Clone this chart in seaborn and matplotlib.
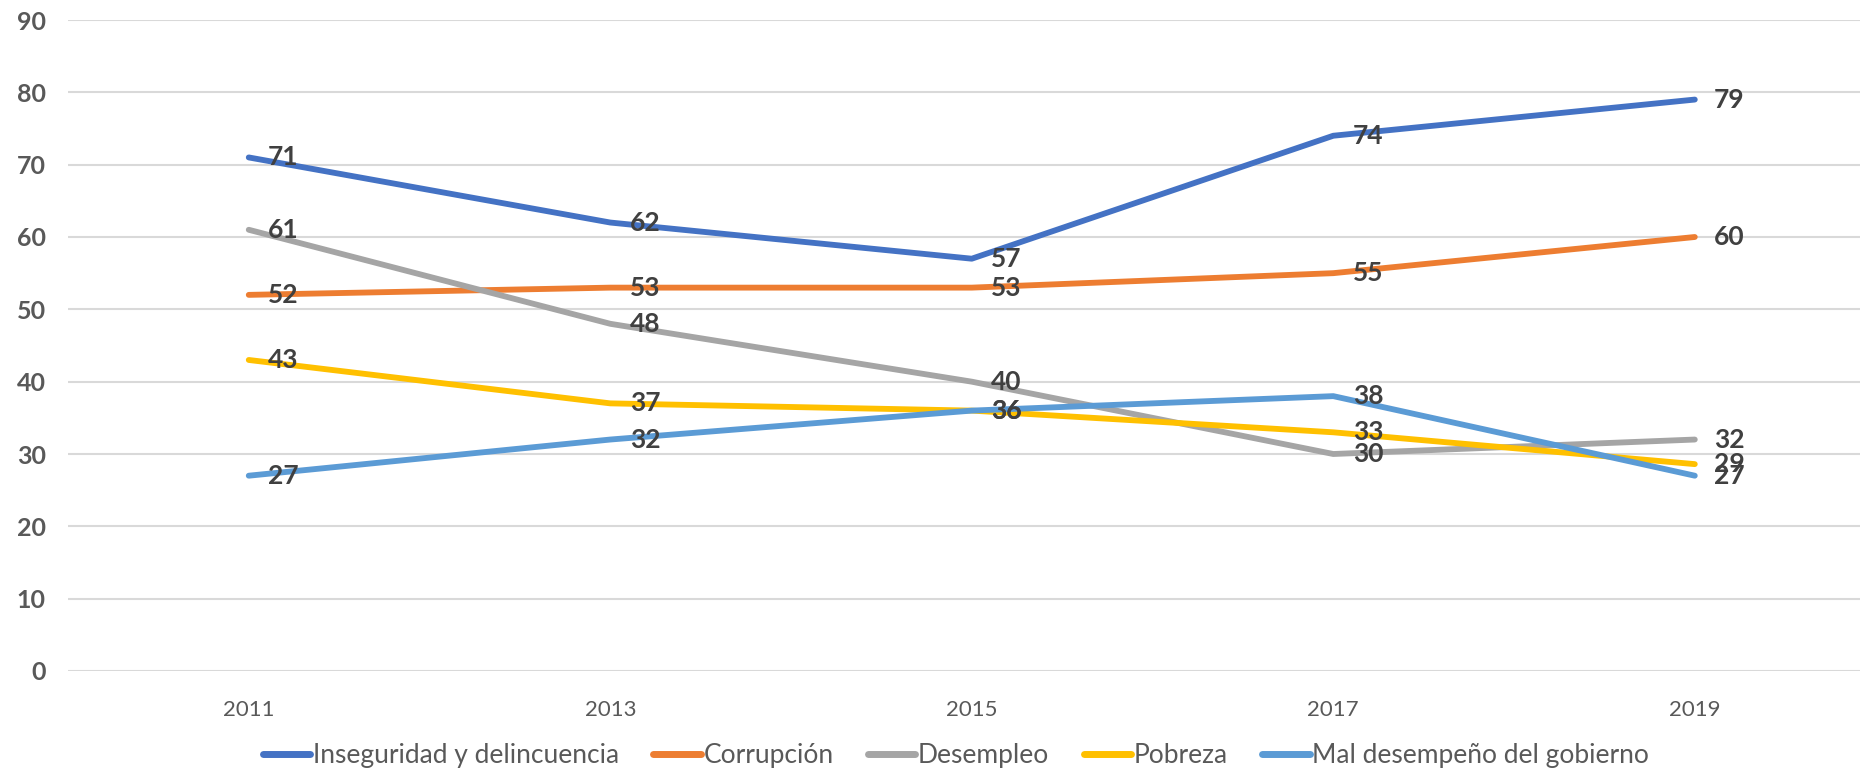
import pandas as pd
import matplotlib.pyplot as plt
import seaborn as sns

# Data
years = ['2011', '2013', '2015', '2017', '2019']
inseguridad = [71, 62, 57, 74, 79]
corrupcion = [52, 53, 53, 55, 60]
desempleo = [61, 48, 40, 30, 32]
pobreza = [43, 37, 36, 33, 28.6]
mal_gobierno = [27, 32, 36, 38, 27]

series_names = ['Inseguridad y delincuencia', 'Corrupción', 'Desempleo',
                'Pobreza', 'Mal desempeño del gobierno']
series_values = [inseguridad, corrupcion, desempleo, pobreza, mal_gobierno]
colors = ['#4472C4', '#ED7D31', '#A5A5A5', '#FFC000', '#5B9BD5']

# Long-form table for seaborn
rows = []
for name, vals in zip(series_names, series_values):
    for year, v in zip(years, vals):
        rows.append({'year': year, 'value': v, 'serie': name})
df = pd.DataFrame(rows)

sns.set_style('white')
plt.rcParams['font.family'] = ['Lato', 'DejaVu Sans']

fig = plt.figure(figsize=(18.6, 7.77), dpi=100)
ax = fig.add_axes([68 / 1860, 1 - 671 / 777, 1 - 68 / 1860, (671 - 20) / 777])

sns.lineplot(data=df, x='year', y='value', hue='serie', palette=colors,
             hue_order=series_names, sort=False, linewidth=4.2, ax=ax,
             solid_capstyle='round')

# Data labels right of each point
for name, vals in zip(series_names, series_values):
    for i, v in enumerate(vals):
        ax.annotate(f'{v:.0f}', (i, v), xytext=(14, 0), textcoords='offset points',
                    ha='left', va='center', fontsize=19, fontweight='bold',
                    color='#404040')

ax.set_ylim(0, 90)
ax.set_yticks(range(0, 91, 10))
ax.set_xlim(-0.5, 4.457)
ax.yaxis.grid(True, color='#D9D9D9', linewidth=1.5)
ax.set_axisbelow(True)
for s in ax.spines.values():
    s.set_visible(False)
ax.tick_params(axis='both', length=0)
ax.tick_params(axis='y', labelsize=18, labelcolor='#595959', pad=16)
for lbl in ax.get_yticklabels():
    lbl.set_fontweight('bold')
ax.tick_params(axis='x', labelsize=16, labelcolor='#595959', pad=21)
ax.set_xlabel('')
ax.set_ylabel('')

handles, labels = ax.get_legend_handles_labels()
ax.legend(handles, labels, loc='center', bbox_to_anchor=(0.514, 0.028),
          bbox_transform=fig.transFigure, ncol=5, frameon=False,
          fontsize=19, handlelength=1.8, handletextpad=0.1, columnspacing=1.3,
          labelcolor='#595959')
for line in ax.get_legend().get_lines():
    line.set_linewidth(5)

plt.savefig('out.png', dpi=100)
plt.close()
